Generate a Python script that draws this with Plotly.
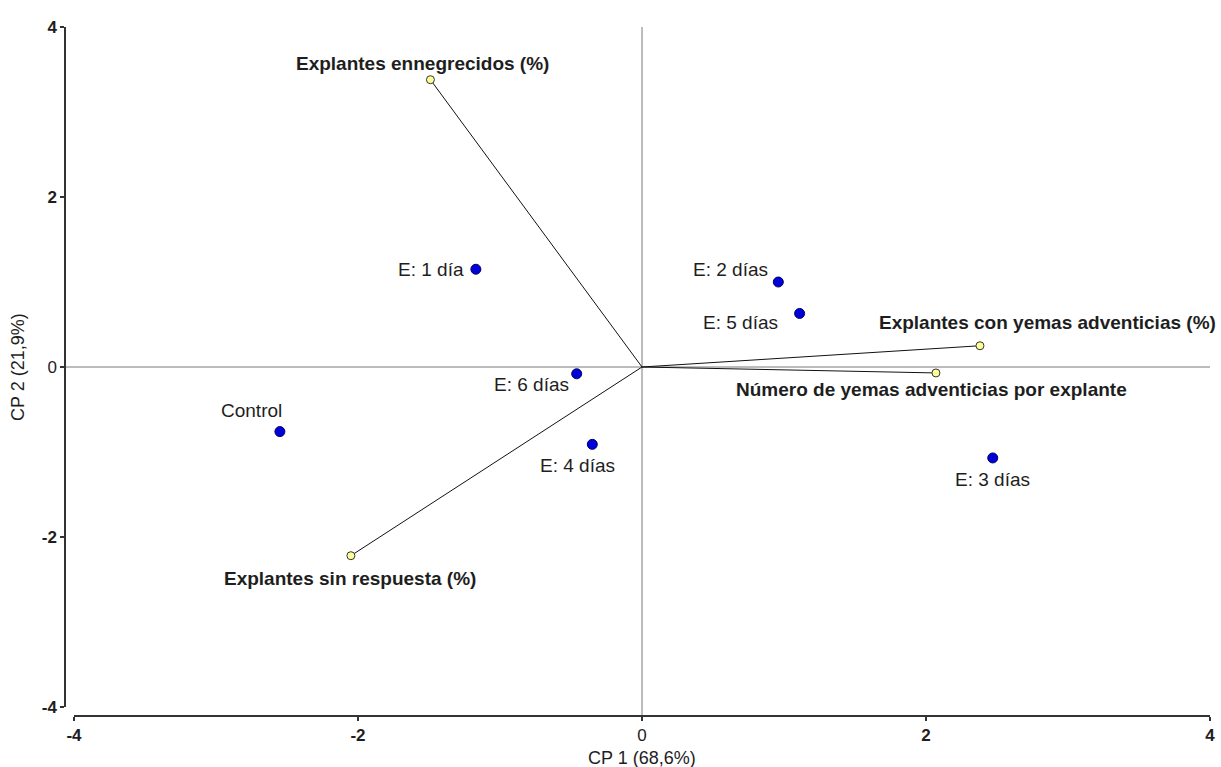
import plotly.graph_objects as go

# Observation scores (treatments) on the first two principal components
obs_labels = ["Control", "E: 1 día", "E: 2 días", "E: 3 días", "E: 4 días", "E: 5 días", "E: 6 días"]
obs_cp1 = [-2.55, -1.17, 0.96, 2.47, -0.35, 1.11, -0.46]
obs_cp2 = [-0.76, 1.15, 1.00, -1.07, -0.91, 0.63, -0.08]

# Variable loadings (biplot vectors)
var_labels = [
    "Explantes ennegrecidos (%)",
    "Explantes con yemas adventicias (%)",
    "Número de yemas adventicias por explante",
    "Explantes sin respuesta (%)",
]
var_cp1 = [-1.49, 2.38, 2.07, -2.05]
var_cp2 = [3.38, 0.25, -0.07, -2.22]

tick_vals = [-4, -2, 0, 2, 4]
tick_text = ["<b>-4</b>", "<b>-2</b>", "0", "<b>2</b>", "<b>4</b>"]

# label offsets in pixels (xanchor, xshift, yshift)
obs_label_pos = {
    "Control": ("center", -28, 21),
    "E: 1 día": ("right", -10, 0),
    "E: 2 días": ("right", -8, 13),
    "E: 3 días": ("center", 0, -22),
    "E: 4 días": ("center", -15, -21),
    "E: 5 días": ("right", -20, -9),
    "E: 6 días": ("right", -6, -11),
}
var_label_pos = {
    "Explantes ennegrecidos (%)": ("center", -8, 16),
    "Explantes con yemas adventicias (%)": ("left", -103, 23),
    "Número de yemas adventicias por explante": ("left", -202, -17),
    "Explantes sin respuesta (%)": ("left", -129, -23),
}

FONT = "Liberation Sans, Arial, sans-serif"
TXT = "#1e1e1e"

fig = go.Figure()

# loading vectors from the origin
for x, y in zip(var_cp1, var_cp2):
    fig.add_trace(go.Scatter(
        x=[0, x], y=[0, y], mode="lines",
        line=dict(color="#111111", width=1), hoverinfo="skip", showlegend=False,
    ))

fig.add_trace(go.Scatter(
    x=var_cp1, y=var_cp2, mode="markers",
    marker=dict(size=8, color="#ffff99", line=dict(color="#333333", width=1)),
    showlegend=False, text=var_labels,
))

fig.add_trace(go.Scatter(
    x=obs_cp1, y=obs_cp2, mode="markers",
    marker=dict(size=10, color="#0000d8", line=dict(color="#000066", width=1)),
    showlegend=False, text=obs_labels,
))

annotations = []
for lab, x, y in zip(obs_labels, obs_cp1, obs_cp2):
    anc, dx, dy = obs_label_pos[lab]
    annotations.append(dict(
        x=x, y=y, xref="x", yref="y", text=lab, showarrow=False,
        xanchor=anc, yanchor="middle", xshift=dx, yshift=dy,
        font=dict(family=FONT, size=19, color=TXT),
    ))
for lab, x, y in zip(var_labels, var_cp1, var_cp2):
    anc, dx, dy = var_label_pos[lab]
    annotations.append(dict(
        x=x, y=y, xref="x", yref="y", text="<b>" + lab + "</b>", showarrow=False,
        xanchor=anc, yanchor="middle", xshift=dx, yshift=dy,
        font=dict(family=FONT, size=19, color=TXT),
    ))

# axis titles
annotations.append(dict(
    x=0, y=0, xref="x", yref="paper", text="CP 1 (68,6%)", showarrow=False,
    xanchor="center", yanchor="middle", yshift=-42,
    font=dict(family=FONT, size=18, color=TXT),
))
annotations.append(dict(
    x=0, y=0, xref="paper", yref="y", text="CP 2 (21,9%)", showarrow=False,
    xanchor="center", yanchor="middle", xshift=-47, textangle=-90,
    font=dict(family=FONT, size=18, color=TXT),
))

shapes = [
    # reference lines through the origin
    dict(type="line", xref="paper", yref="y", x0=0, x1=1, y0=0, y1=0,
         line=dict(color="#7a7a7a", width=1), layer="below"),
    dict(type="line", xref="x", yref="paper", x0=0, x1=0, y0=0, y1=1,
         line=dict(color="#7a7a7a", width=1), layer="below"),
]

axis_common = dict(
    range=[-4, 4], anchor="free", position=0, automargin=False,
    showline=True, linecolor="#333333", linewidth=1.5,
    ticks="outside", ticklen=4, tickcolor="#333333", tickwidth=1.5,
    tickvals=tick_vals, ticktext=tick_text,
    tickfont=dict(family=FONT, size=17, color=TXT),
    showgrid=False, zeroline=False,
)

fig.update_layout(
    width=1221, height=767,
    margin=dict(l=65, r=11, t=27, b=51, autoexpand=False),
    paper_bgcolor="white", plot_bgcolor="white",
    showlegend=False,
    annotations=annotations, shapes=shapes,
    xaxis=dict(domain=[9 / 1145, 1], **axis_common),
    yaxis=dict(domain=[9 / 689, 1], **axis_common),
)

fig.write_html("out.html")
